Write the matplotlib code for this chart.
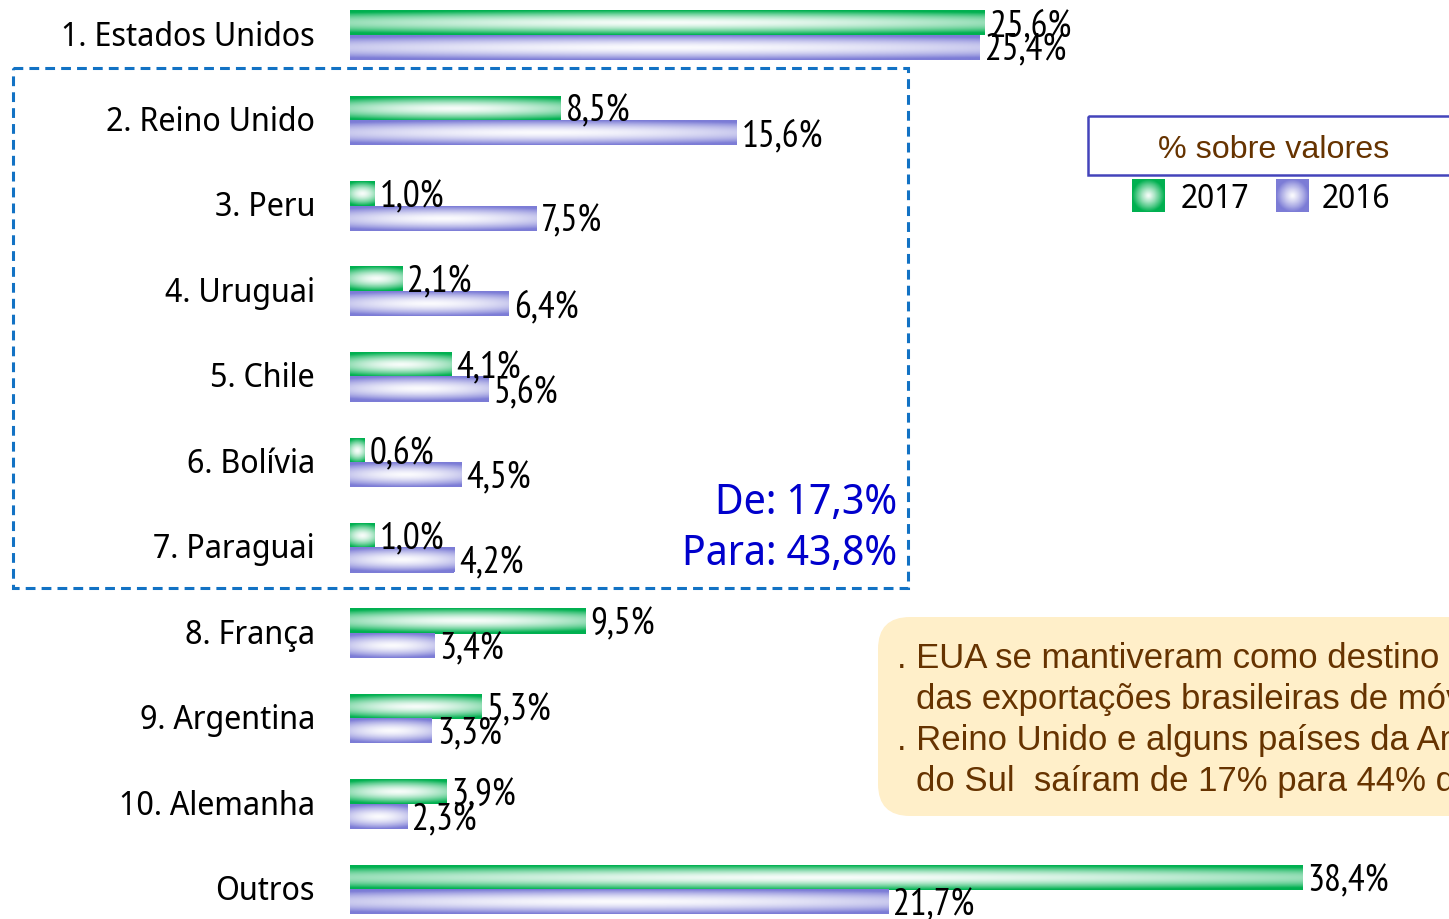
import matplotlib
matplotlib.use("Agg")
import matplotlib.pyplot as plt
import numpy as np
from matplotlib.patches import Rectangle, FancyBboxPatch
from matplotlib.colors import to_rgb

# ---------------- data ----------------
categories = ["1. Estados Unidos", "2. Reino Unido", "3. Peru", "4. Uruguai", "5. Chile",
              "6. Bolívia", "7. Paraguai", "8. França", "9. Argentina", "10. Alemanha", "Outros"]
values_2017 = [25.6, 8.5, 1.0, 2.1, 4.1, 0.6, 1.0, 9.5, 5.3, 3.9, 38.4]
values_2016 = [25.4, 15.6, 7.5, 6.4, 5.6, 4.5, 4.2, 3.4, 3.3, 2.3, 21.7]
series_labels = ["2017", "2016"]
legend_title = "% sobre valores"
box_lines = ["De: 17,3%", "Para: 43,8%"]
note_lines = [". EUA se mantiveram como destino principal",
              "das exportações brasileiras de móveis",
              ". Reino Unido e alguns países da América",
              "do Sul  saíram de 17% para 44% do total"]

GREEN = "#00B050"
PURPLE = "#7C7CD6"
W, H = 1449, 920

LABEL_FAM = ["Noto Sans Display", "DejaVu Sans"]
VALUE_FAM = ["PT Sans Narrow", "DejaVu Sans"]
ARIAL_FAM = ["Liberation Sans", "DejaVu Sans"]

fig = plt.figure(figsize=(W / 100, H / 100), dpi=100)

# data axes spanning whole figure: x=0 at pixel 350, 24.8 px per %
PX_PER_PCT = 24.8
X0 = 350
GROUP = 85.5
Y0 = 36
ax = fig.add_axes([0, 0, 1, 1])
ax.set_axis_off()
xlim = (-X0 / PX_PER_PCT, (W - X0) / PX_PER_PCT)
ylim = ((H - Y0) / GROUP, -Y0 / GROUP)

bh = 24.5 / GROUP
ypos = np.arange(len(categories))


def gradient_rgba(color, nx, ny, sx=0.55, gamma=1.6):
    base = np.array(to_rgb(color))
    u = np.linspace(-1, 1, nx)[None, :]
    v = np.linspace(-1, 1, ny)[:, None]
    r = np.sqrt((sx * u) ** 2 + v ** 2)
    t = np.clip(r, 0, 1) ** gamma
    t = 0.03 + 0.97 * t
    img = (1 - t[..., None]) * np.ones(3) + t[..., None] * base
    return img


bars17 = ax.barh(ypos - bh, values_2017, height=bh, align="edge", color=GREEN, zorder=2)
bars16 = ax.barh(ypos, values_2016, height=bh, align="edge", color=PURPLE, zorder=2)

for bars, col in ((bars17, GREEN), (bars16, PURPLE)):
    for p in bars:
        x, y, w, h = p.get_x(), p.get_y(), p.get_width(), p.get_height()
        img = gradient_rgba(col, 200, 40)
        ax.imshow(img, extent=[x, x + w, y + h, y], aspect="auto",
                  interpolation="bilinear", zorder=3)

val_font = dict(family=VALUE_FAM, fontsize=27, color="black")
off = 5 / PX_PER_PCT
dy = 3 / GROUP
for i, (a, b) in enumerate(zip(values_2017, values_2016)):
    ax.text(a + off, i - bh / 2 + dy, f"{a:.1f}%".replace(".", ","), va="center", ha="left",
            zorder=5, **val_font)
    ax.text(b + off, i + bh / 2 + dy, f"{b:.1f}%".replace(".", ","), va="center", ha="left",
            zorder=5, **val_font)

lab_font = dict(family=LABEL_FAM, fontsize=23.3, color="black")
for i, c in enumerate(categories):
    ax.text(-35 / PX_PER_PCT, i + 1 / GROUP, c, ha="right", va="center", **lab_font)

ax.set_xlim(*xlim)
ax.set_ylim(*ylim)

# ---------------- decoration axes in pixel coordinates ----------------
dx = fig.add_axes([0, 0, 1, 1])
dx.set_axis_off()
dx.patch.set_alpha(0)

# dashed box around South-American group
dx.add_patch(Rectangle((13, 69), 895, 520, fill=False, ec="#1272C4", lw=2.2,
                       ls=(0, (3.2, 2.0)), zorder=4))
dx.text(897, 503, box_lines[0], ha="right", va="center", color="#0000CC",
        family=LABEL_FAM, fontsize=30)
dx.text(897, 554, box_lines[1], ha="right", va="center", color="#0000CC",
        family=LABEL_FAM, fontsize=30)

# legend
dx.add_patch(Rectangle((1088, 117), 420, 59, fill=False, ec="#4444BB", lw=1.8, zorder=4))
dx.text(1274, 150, legend_title, ha="center", va="center", color="#663300",
        family=ARIAL_FAM, fontsize=23.2)
sq = 33
for (sx_, tx), col, lab in zip(((1132, 1181), (1276, 1322)), (GREEN, PURPLE), series_labels):
    img = gradient_rgba(col, 40, 40, sx=1.0, gamma=1.2)
    dx.imshow(img, extent=[sx_, sx_ + sq, 180 + sq, 180], aspect="auto",
              interpolation="bilinear", zorder=4)
    dx.text(tx, 199, lab, ha="left", va="center", color="black",
            family=LABEL_FAM, fontsize=23)

# note box
dx.add_patch(FancyBboxPatch((878, 618), 640, 199,
                            boxstyle="round,pad=0,rounding_size=32",
                            fc="#FFEFC9", ec="none", zorder=1))
note_font = dict(family=ARIAL_FAM, fontsize=25, color="#663300")
for k, (line, lx) in enumerate(zip(note_lines, (897, 916, 897, 916))):
    dx.text(lx, 659 + 40.7 * k, line, ha="left", va="center", zorder=2, **note_font)

dx.set_xlim(0, W)
dx.set_ylim(H, 0)

fig.savefig("out.png", dpi=100)
